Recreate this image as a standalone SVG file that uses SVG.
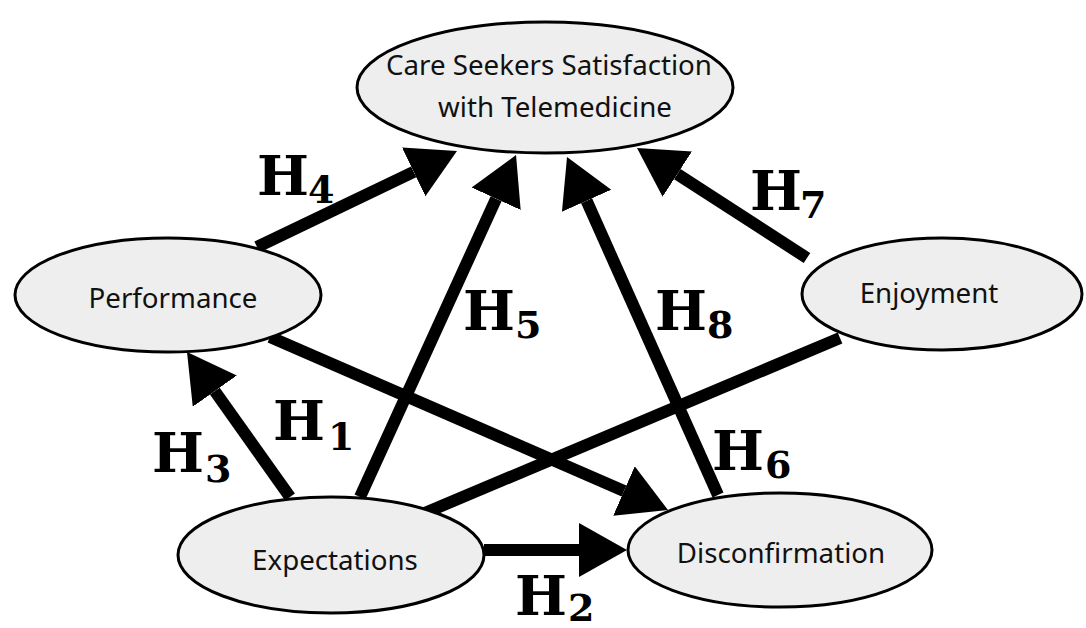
<svg xmlns="http://www.w3.org/2000/svg" width="1086" height="628" viewBox="0 0 1086 628">
  <style>
    .node ellipse { fill: #eeeeee; stroke: #000; stroke-width: 3; }
    .node text { font-family: "Noto Sans", "Open Sans", sans-serif; font-size: 27.7px; fill: #111; text-anchor: middle; }
    .edge { stroke: #000; stroke-width: 12; fill: none; }
    .arrow { marker-end: url(#head); }
    .lbl { font-family: "DejaVu Serif", "Liberation Serif", serif; font-weight: bold; font-size: 55px; fill: #000; }
    .sub { font-size: 38px; }
  </style>
  <defs>
    <marker id="head" markerUnits="userSpaceOnUse" markerWidth="50" markerHeight="56" refX="0" refY="27" orient="auto" viewBox="0 0 50 56">
      <path d="M0,0 L48,27 L0,54 z" fill="#000"/>
    </marker>
  </defs>
  <rect width="1086" height="628" fill="#fff"/>

  <g id="connectors">
    <line class="edge arrow" x1="257" y1="247" x2="413.7" y2="171.8"/>
    <line class="edge arrow" x1="360" y1="497" x2="496.1" y2="198.7"/>
    <line class="edge arrow" x1="718" y1="495" x2="586.6" y2="200.8"/>
    <line class="edge arrow" x1="807" y1="258" x2="677.3" y2="174.1"/>
    <line class="edge arrow" x1="290" y1="497" x2="214.8" y2="391.1"/>
    <line class="edge arrow" x1="270" y1="337" x2="624" y2="490.9"/>
    <line class="edge arrow" x1="484" y1="550" x2="579" y2="550"/>
    <line class="edge" x1="420" y1="515" x2="840" y2="338"/>
  </g>

  <g id="node-satisfaction" class="node">
    <ellipse cx="545" cy="87.5" rx="188" ry="65.5"/>
    <text x="549" y="75">Care Seekers Satisfaction</text>
    <text x="555" y="117">with Telemedicine</text>
  </g>
  <g id="node-performance" class="node">
    <ellipse cx="168" cy="295" rx="153" ry="57"/>
    <text x="173" y="308">Performance</text>
  </g>
  <g id="node-enjoyment" class="node">
    <ellipse cx="942" cy="294" rx="140" ry="56"/>
    <text x="929" y="303">Enjoyment</text>
  </g>
  <g id="node-expectations" class="node">
    <ellipse cx="331" cy="555" rx="153" ry="58"/>
    <text x="335" y="570">Expectations</text>
  </g>
  <g id="node-disconfirmation" class="node">
    <ellipse cx="780" cy="550" rx="152" ry="57"/>
    <text x="781" y="563">Disconfirmation</text>
  </g>

  <g id="labels">
    <text class="lbl" x="273" y="440">H<tspan class="sub" x="328" y="450">1</tspan></text>
    <text class="lbl" x="515" y="615">H<tspan class="sub" x="568" y="621">2</tspan></text>
    <text class="lbl" x="152" y="472">H<tspan class="sub" x="205" y="482">3</tspan></text>
    <text class="lbl" x="257" y="195">H<tspan class="sub" x="308" y="203">4</tspan></text>
    <text class="lbl" x="463" y="330">H<tspan class="sub" x="515" y="338">5</tspan></text>
    <text class="lbl" x="712" y="470">H<tspan class="sub" x="765" y="478">6</tspan></text>
    <text class="lbl" x="750" y="210">H<tspan class="sub" x="800" y="218">7</tspan></text>
    <text class="lbl" x="655" y="330">H<tspan class="sub" x="707" y="338">8</tspan></text>
  </g>
</svg>
